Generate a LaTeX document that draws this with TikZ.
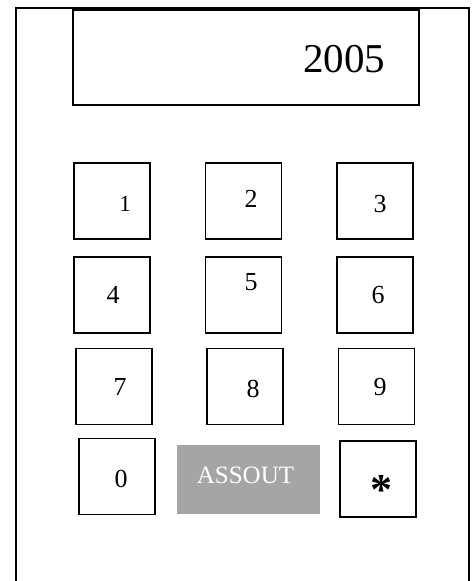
\documentclass[tikz,border=0pt]{standalone}
\usepackage{fontspec}
\setmainfont{Liberation Serif}
\usepackage{xcolor}
\usepackage{tikz}
\usetikzlibrary{positioning}

\definecolor{btngray}{RGB}{165,165,165}

\tikzset{
  keybox/.style={draw, line width=1.5pt, minimum size=76pt, inner sep=0pt},
  keylabel/.style={anchor=base, inner sep=0pt, font=\fontsize{26}{30}\selectfont},
}

\begin{document}
\begin{tikzpicture}[x=1pt, y=-1pt]
    \useasboundingbox (0,0) rectangle (475,581);
    % outer casing, open at the bottom
    \draw[line width=1.6pt] (16,581) -- (16,8) -- (469,8) -- (469,581);
    % display
    \node[draw, line width=1.6pt, minimum width=346pt, minimum height=95pt, anchor=north west, inner sep=0pt] (disp) at (72,9) {};
    \node[anchor=base, inner sep=0pt, font=\fontsize{41}{46}\selectfont] (year) at (344,72) {2005};

    % keys
    \node[keybox] (k1) at (112,201) {};
    \node[keybox] (k2) at (243.5,201) {};
    \node[keybox] (k3) at (375,201) {};
    \node[keybox] (k4) at (112,295) {};
    \node[keybox] (k5) at (243.5,295) {};
    \node[keybox] (k6) at (375,295) {};
    \node[keybox] (k7) at (114,386.5) {};
    \node[keybox] (k8) at (245,386.5) {};
    \node[keybox] (k9) at (376.5,386.5) {};
    \node[keybox] (k0) at (117,476.5) {};
    \node[fill=btngray, minimum width=143pt, minimum height=69pt, inner sep=0pt] (out) at (248.5,479.5) {};
    \node[keybox] (kstar) at (378,479) {};

    % key labels
    \node[keylabel, font=\fontsize{23}{27}\selectfont] (l1) at (125,211) {1};
    \node[keylabel] (l2) at (251,207) {2};
    \node[keylabel] (l3) at (380,212) {3};
    \node[keylabel] (l4) at (113,303) {4};
    \node[keylabel] (l5) at (251,290) {5};
    \node[keylabel] (l6) at (378,303) {6};
    \node[keylabel] (l7) at (120,395) {7};
    \node[keylabel] (l8) at (253,397) {8};
    \node[keylabel] (l9) at (380,395) {9};
    \node[keylabel] (l0) at (121,487) {0};
    \node[keylabel, text=white, font=\fontsize{25}{30}\selectfont] (lout) at (245.5,483) {ASSOUT};
    \node[keylabel, font=\bfseries\fontsize{44}{48}\selectfont] (lstar) at (381,504) {*};
\end{tikzpicture}
\end{document}
